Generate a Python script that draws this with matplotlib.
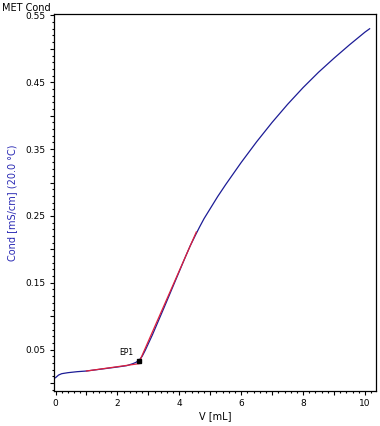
import matplotlib
matplotlib.use('Agg')
import matplotlib.pyplot as plt
from matplotlib.ticker import MultipleLocator, FuncFormatter

plt.rcParams['font.family'] = ['DejaVu Sans']
plt.rcParams['font.size'] = 6.5

# titration curve
vol = [0.0, 0.05, 0.1, 0.2, 0.4, 0.7, 1.0, 1.5, 2.0, 2.3, 2.5, 2.6, 2.7, 2.8, 2.9,
       3.0, 3.13, 3.5, 3.9, 4.2, 4.35, 4.53, 4.65, 4.8, 5.0, 5.24, 5.5, 6.0, 6.5,
       7.0, 7.5, 8.0, 8.5, 9.0, 9.5, 10.0, 10.15]
cond = [0.008, 0.010, 0.012, 0.014, 0.0155, 0.017, 0.018, 0.021, 0.024, 0.026, 0.029,
        0.031, 0.034, 0.040, 0.049, 0.059, 0.072, 0.112, 0.156, 0.189, 0.205, 0.222,
        0.233, 0.246, 0.261, 0.279, 0.297, 0.330, 0.361, 0.390, 0.417, 0.442, 0.465,
        0.486, 0.506, 0.525, 0.530]

# tangent lines used for the endpoint
fit1_v = [1.0, 2.7]
fit1_c = [0.018, 0.029]
fit2_v = [2.7, 4.55]
fit2_c = [0.031, 0.226]

ep_v = [2.7]
ep_c = [0.033]
ep_label = 'EP1'

fig = plt.figure(figsize=(3.8, 4.26), dpi=100)
ax = fig.add_axes([0.142, 0.082, 0.847, 0.885])

ax.plot(vol, cond, color='#1c1c96', lw=0.9, zorder=2)
ax.plot(fit1_v, fit1_c, color='#e0203c', lw=0.9, zorder=3)
ax.plot(fit2_v, fit2_c, color='#e0203c', lw=0.9, zorder=3)
ax.plot(ep_v, ep_c, 's', color='black', ms=3.5, zorder=4)
ax.annotate(ep_label, (ep_v[0], ep_c[0]), xytext=(-9, 3), textcoords='offset points',
            fontsize=5.5, ha='center', va='bottom')

ax.set_xlim(-0.05, 10.35)
ax.set_ylim(-0.012, 0.552)

ax.xaxis.set_major_locator(MultipleLocator(1))
ax.xaxis.set_minor_locator(MultipleLocator(0.2))
ax.xaxis.set_major_formatter(FuncFormatter(
    lambda v, p: '%d' % round(v) if round(v) % 2 == 0 else ''))

ax.yaxis.set_major_locator(MultipleLocator(0.05))
ax.yaxis.set_minor_locator(MultipleLocator(0.01))
ax.yaxis.set_major_formatter(FuncFormatter(
    lambda v, p: '%.2f' % v if round(v * 100) % 10 == 5 else ''))

ax.tick_params(which='major', length=3, width=0.8, pad=3)
ax.tick_params(which='minor', length=1.5, width=0.8)
for s in ax.spines.values():
    s.set_linewidth(0.9)

ax.set_xlabel('V [mL]', fontsize=7, labelpad=2)
ax.set_ylabel('Cond [mS/cm] (20.0 °C)', fontsize=7, color='#2a2ab4', labelpad=6)
fig.text(0.005, 0.993, 'MET Cond', fontsize=7, ha='left', va='top')

fig.savefig('out.png', dpi=100)
